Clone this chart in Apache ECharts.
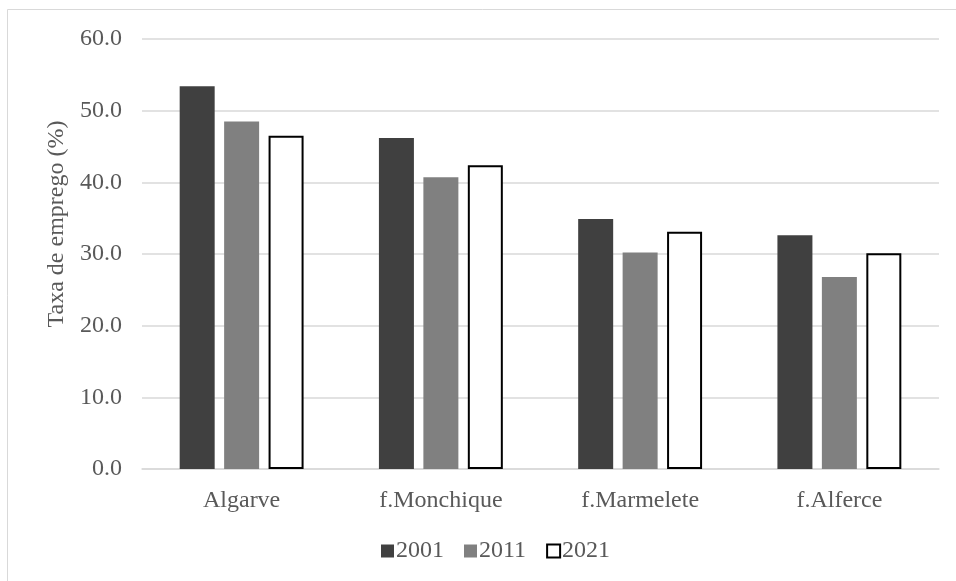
<!DOCTYPE html>
<html>
<head>
<meta charset="utf-8">
<script src="https://cdn.jsdelivr.net/npm/echarts@6/dist/echarts.min.js"></script>
<style>
  html, body { margin: 0; padding: 0; background: #fff; }
  #chart { width: 956px; height: 581px; }
</style>
</head>
<body>
<div id="chart"></div>
<script>
// Employment rate by area and census year
const categories = ['Algarve', 'f.Monchique', 'f.Marmelete', 'f.Alferce'];
const years = ['2001', '2011', '2021'];
const values2001 = [53.4, 46.2, 34.9, 32.6];
const values2011 = [48.5, 40.7, 30.2, 26.8];
const values2021 = [46.5, 42.4, 33.1, 30.1];
const yTitle = 'Taxa de emprego (%)';

const serif = '"Liberation Serif", "Times New Roman", serif';
const textColor = '#595959';

const chart = echarts.init(document.getElementById('chart'), null, { renderer: 'canvas' });

chart.setOption({
  backgroundColor: '#ffffff',
  animation: false,
  graphic: [
    {
      // frame around the chart area
      type: 'rect',
      shape: { x: 7.5, y: 9.5, width: 1200, height: 1200 },
      style: { fill: 'none', stroke: '#d9d9d9', lineWidth: 1 },
      silent: true
    },
    {
      // vertical axis title
      type: 'text',
      x: 57,
      y: 224,
      rotation: Math.PI / 2,
      style: {
        text: yTitle,
        fontFamily: serif,
        fontSize: 24,
        fill: textColor,
        align: 'center',
        verticalAlign: 'middle'
      },
      silent: true
    }
  ],
  grid: { left: 142, right: 17, top: 39, bottom: 112 },
  legend: {
    data: years.map((y, i) => i === 2
      ? { name: y, itemStyle: { color: '#ffffff', borderColor: '#000000', borderWidth: 2 } }
      : { name: y }),
    top: 534,
    left: 376,
    itemWidth: 13,
    itemHeight: 13,
    itemGap: 20,
    icon: 'rect',
    textStyle: { fontFamily: serif, fontSize: 24, color: textColor, padding: [0, 0, 0, -3] }
  },
  xAxis: {
    type: 'category',
    data: categories,
    axisLine: { lineStyle: { color: '#d9d9d9', width: 1.5 } },
    axisTick: { show: false },
    axisLabel: { fontFamily: serif, fontSize: 24, color: textColor, margin: 20 }
  },
  yAxis: {
    type: 'value',
    min: 0,
    max: 60,
    interval: 10,
    axisLine: { show: false },
    axisTick: { show: false },
    axisLabel: {
      fontFamily: serif, fontSize: 24, color: textColor, margin: 20,
      formatter: v => v.toFixed(1)
    },
    splitLine: { lineStyle: { color: '#d9d9d9', width: 1.5 } }
  },
  series: [
    {
      name: years[0], type: 'bar', data: values2001,
      barWidth: 35, barGap: '27%',
      itemStyle: { color: '#404040' }
    },
    {
      name: years[1], type: 'bar', data: values2011,
      barWidth: 35, barGap: '27%',
      itemStyle: { color: '#808080' }
    },
    {
      name: years[2], type: 'bar', data: values2021,
      barWidth: 35, barGap: '27%',
      itemStyle: { color: '#ffffff', borderColor: '#000000', borderWidth: 2 }
    }
  ]
});
</script>
</body>
</html>
